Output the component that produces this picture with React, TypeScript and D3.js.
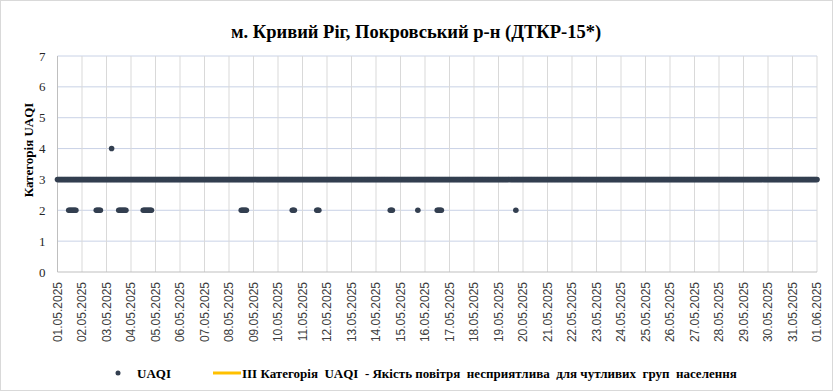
import { useEffect, useRef } from 'react';
import * as d3 from 'd3';

// UAQI readings as runs of hours since 01.05.2025 00:00: [fromHour, toHour, category]
const steadyRuns: [number, number, number][] = [[0, 744, 3]];
const dipRuns: [number, number, number][] = [
  [11, 18, 2],
  [38, 42, 2],
  [60, 67, 2],
  [84, 92, 2],
  [180, 185, 2],
  [230, 232, 2],
  [254, 256, 2],
  [326, 328, 2],
  [353, 353, 2],
  [372, 376, 2],
  [449, 449, 2],
];
const peakRuns: [number, number, number][] = [[53, 53, 4]];

const thresholdLevel = 3;
const yTicks = [0, 1, 2, 3, 4, 5, 6, 7];
const startDate = new Date(Date.UTC(2025, 4, 1));
const endDate = new Date(Date.UTC(2025, 5, 1));

const titleText = 'м. Кривий Ріг, Покровський р-н (ДТКР-15*)';
const yLabel = 'Категорія UAQI';
const seriesLabel = 'UAQI';
const thresholdLabel = 'III Категорія  UAQI  - Якість повітря  несприятлива  для чутливих  груп  населення';

export default function App() {
  const svgRef = useRef<SVGSVGElement>(null);

  useEffect(() => {
    if (!svgRef.current) return;
    const width = 833;
    const height = 391;
    const svg = d3.select(svgRef.current);
    svg.selectAll('*').remove();
    svg.attr('width', width).attr('height', height);

    const margin = { top: 56, right: 16, bottom: 119, left: 57.5 };
    const innerW = width - margin.left - margin.right;
    const innerH = height - margin.top - margin.bottom;

    // Outer border
    svg.append('rect')
      .attr('x', 0.5).attr('y', 0.5)
      .attr('width', width - 1).attr('height', height - 1)
      .attr('fill', '#fff')
      .attr('stroke', '#d9d9d9');

    const g = svg.append('g').attr('transform', `translate(${margin.left},${margin.top})`);

    const x = d3.scaleUtc().domain([startDate, endDate]).range([0, innerW]);
    const y = d3.scaleLinear().domain([0, 7]).range([innerH, 0]);
    const days = d3.utcDay.range(startDate, d3.utcDay.offset(endDate, 1));

    // Horizontal grid
    g.append('g')
      .selectAll('line')
      .data(yTicks.filter(t => t > 0))
      .enter()
      .append('line')
      .attr('x1', 0).attr('x2', innerW)
      .attr('y1', d => y(d)).attr('y2', d => y(d))
      .attr('stroke', '#c9d2e6')
      .attr('stroke-width', 1);

    // Vertical grid
    g.append('g')
      .selectAll('line')
      .data(days.slice(1))
      .enter()
      .append('line')
      .attr('x1', d => x(d)).attr('x2', d => x(d))
      .attr('y1', 0).attr('y2', innerH)
      .attr('stroke', '#d9d9d9')
      .attr('stroke-width', 1);

    // Axis lines
    g.append('line')
      .attr('x1', 0).attr('x2', innerW)
      .attr('y1', innerH).attr('y2', innerH)
      .attr('stroke', '#bfbfbf');
    g.append('line')
      .attr('x1', 0).attr('x2', 0)
      .attr('y1', 0).attr('y2', innerH)
      .attr('stroke', '#bfbfbf');

    // Y tick labels
    g.append('g')
      .selectAll('text')
      .data(yTicks)
      .enter()
      .append('text')
      .attr('x', -12)
      .attr('y', d => y(d))
      .attr('dy', '0.35em')
      .attr('text-anchor', 'end')
      .attr('font-family', '"Liberation Serif", "Times New Roman", serif')
      .attr('font-size', '13px')
      .attr('fill', '#262626')
      .text(d => d);

    // X tick labels
    const fmt = d3.utcFormat('%d.%m.%Y');
    g.append('g')
      .selectAll('text')
      .data(days)
      .enter()
      .append('text')
      .attr('transform', d => `translate(${x(d)},${innerH + 10}) rotate(-90)`)
      .attr('dy', '0.35em')
      .attr('text-anchor', 'end')
      .attr('font-family', '"Liberation Sans", Arial, sans-serif')
      .attr('font-size', '12px')
      .attr('fill', '#404040')
      .text(d => fmt(d));

    // Threshold line (III category)
    g.append('line')
      .attr('x1', 0).attr('x2', innerW)
      .attr('y1', y(thresholdLevel)).attr('y2', y(thresholdLevel))
      .attr('stroke', '#ffc000')
      .attr('stroke-width', 2.5);

    // UAQI points
    const toPoints = (runs: [number, number, number][]) =>
      runs.flatMap(([a, b, v]) => d3.range(a, b + 1).map(h => ({ t: d3.utcHour.offset(startDate, h), v })));
    const points = [...toPoints(steadyRuns), ...toPoints(dipRuns), ...toPoints(peakRuns)];

    g.append('g')
      .selectAll('circle')
      .data(points)
      .enter()
      .append('circle')
      .attr('cx', d => x(d.t))
      .attr('cy', d => y(d.v))
      .attr('r', 2.8)
      .attr('fill', '#333f50');

    // Title
    svg.append('text')
      .attr('x', 416)
      .attr('y', 38)
      .attr('text-anchor', 'middle')
      .attr('font-family', '"Liberation Serif", "Times New Roman", serif')
      .attr('font-weight', 'bold')
      .attr('font-size', '18.5px')
      .attr('fill', '#000')
      .text(titleText);

    // Y axis label
    svg.append('text')
      .attr('transform', 'translate(33,150) rotate(-90)')
      .attr('text-anchor', 'middle')
      .attr('font-family', '"Liberation Serif", "Times New Roman", serif')
      .attr('font-weight', 'bold')
      .attr('font-size', '13px')
      .attr('fill', '#000')
      .text(yLabel);

    // Legend
    const legend = svg.append('g').attr('transform', 'translate(0,373)');
    legend.append('circle')
      .attr('cx', 118).attr('cy', 0).attr('r', 2.5)
      .attr('fill', '#333f50');
    legend.append('text')
      .attr('x', 137).attr('y', 4.5)
      .attr('font-family', '"Liberation Serif", "Times New Roman", serif')
      .attr('font-weight', 'bold')
      .attr('font-size', '13px')
      .attr('fill', '#000')
      .text(seriesLabel);
    legend.append('line')
      .attr('x1', 213).attr('x2', 241)
      .attr('y1', 0).attr('y2', 0)
      .attr('stroke', '#ffc000')
      .attr('stroke-width', 3);
    legend.append('text')
      .attr('x', 242).attr('y', 4.5)
      .attr('font-family', '"Liberation Serif", "Times New Roman", serif')
      .attr('font-weight', 'bold')
      .attr('font-size', '13px')
      .attr('fill', '#000')
      .style('white-space', 'pre')
      .text(thresholdLabel);
  }, []);

  return (
    <div style={{ position: 'absolute', left: 0, top: 0 }}>
      <svg ref={svgRef} style={{ display: 'block' }} />
    </div>
  );
}
